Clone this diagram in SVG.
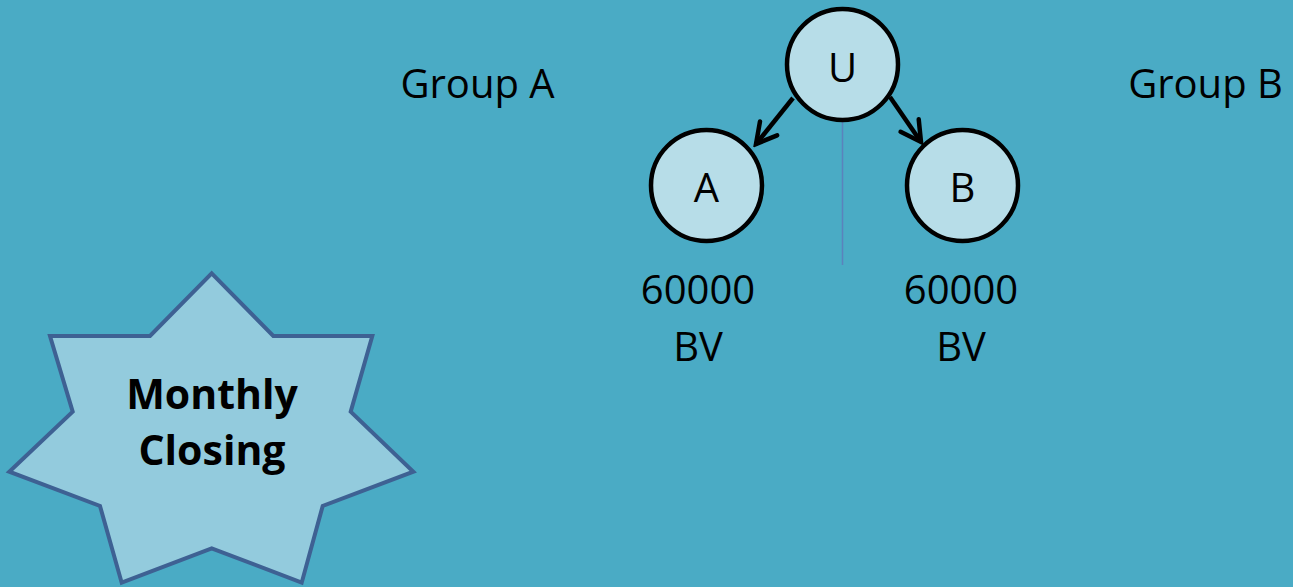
<svg xmlns="http://www.w3.org/2000/svg" width="1293" height="587" viewBox="0 0 1293 587">
<style>
.lbl{font-family:"Open Sans","Liberation Sans",sans-serif;font-size:40px;fill:#000;text-anchor:middle}
.node circle{fill:#B7DDE8;stroke:#000;stroke-width:4.5}
.conn{stroke:#000;stroke-width:4.5;fill:none;marker-end:url(#arr)}
.star{fill:#93CBDD;stroke:#3E6193;stroke-width:4;stroke-linejoin:miter}
.bold{font-family:"Open Sans","Liberation Sans",sans-serif;font-weight:bold;font-size:41px;fill:#000;text-anchor:middle}
</style>
<defs>
<marker id="arr" markerUnits="userSpaceOnUse" viewBox="-24 -14 28 28" refX="0" refY="0" markerWidth="28" markerHeight="28" orient="auto">
<path d="M-20,-11 L0,0 L-20,11" fill="none" stroke="#000" stroke-width="4.5" stroke-linecap="round" stroke-linejoin="miter"/>
</marker>
</defs>
<rect width="1293" height="587" fill="#4AABC5"/>
<text class="lbl" x="477.5" y="98">Group A</text>
<text class="lbl" x="1205.5" y="98">Group B</text>
<g id="connectors">
<line class="conn" x1="793" y1="98" x2="756" y2="144"/>
<line class="conn" x1="890" y1="97" x2="921" y2="142"/>
<line x1="842.5" y1="121" x2="842.5" y2="265" stroke="#5B82BC" stroke-width="1.5"/>
</g>
<g id="node-U" class="node"><circle cx="842.5" cy="64.5" r="55.5"/><text class="lbl" x="842.5" y="82">U</text></g>
<g id="node-A" class="node"><circle cx="706.5" cy="185.5" r="55.5"/><text class="lbl" x="706.5" y="202">A</text></g>
<g id="node-B" class="node"><circle cx="962.5" cy="185.5" r="55.5"/><text class="lbl" x="962.5" y="202">B</text></g>
<g id="label-A"><text class="lbl" x="698" y="304">60000</text><text class="lbl" x="698" y="361">BV</text></g>
<g id="label-B"><text class="lbl" x="961" y="304">60000</text><text class="lbl" x="961" y="361">BV</text></g>
<g id="monthly-closing">
<polygon class="star" points="211.7,273.3 273.3,336 372.3,336 350.7,411.7 413.3,471.7 322.7,506 301.7,582.7 211.7,548.3 121.7,582.7 100,506 9.3,471.7 72.7,411.7 50,336 150,336"/>
<text class="bold" x="212" y="409">Monthly</text>
<text class="bold" x="212" y="465">Closing</text>
</g>
</svg>
